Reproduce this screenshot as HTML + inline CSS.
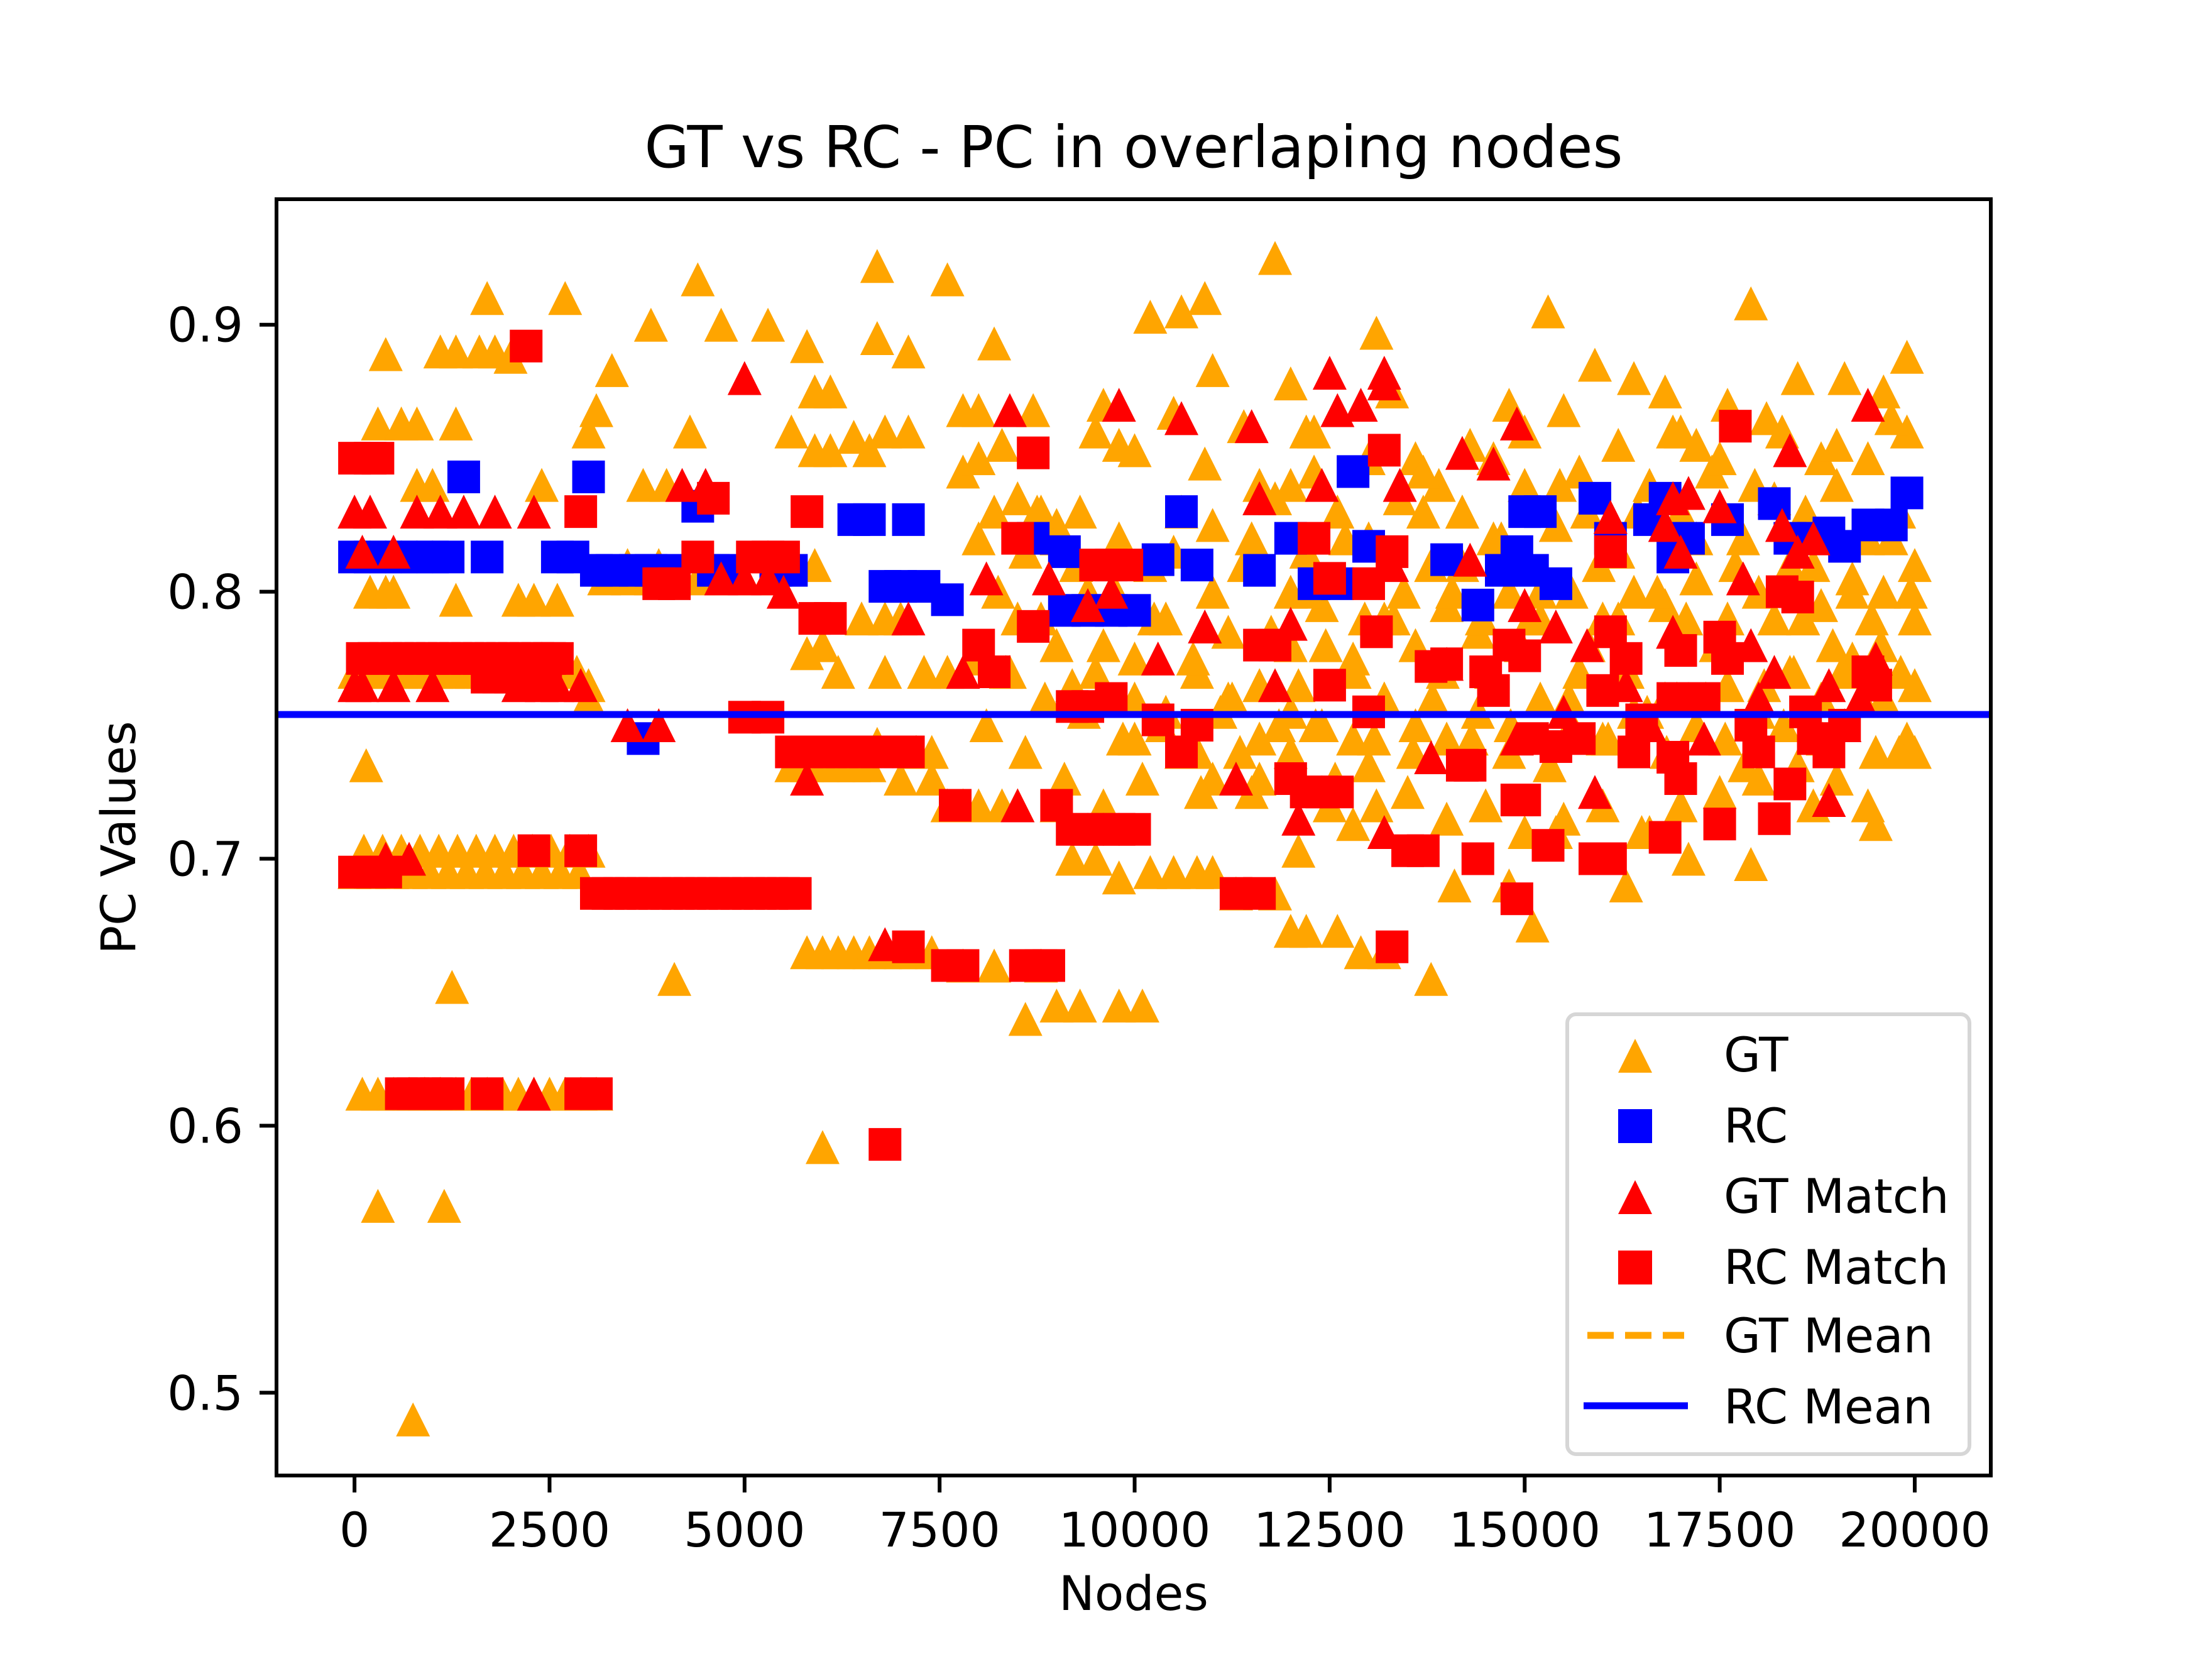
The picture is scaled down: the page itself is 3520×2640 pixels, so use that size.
<!DOCTYPE html>
<html><head><meta charset="utf-8"><style>
html,body{margin:0;padding:0;background:#fff;}
svg{display:block;font-family:"DejaVu Sans","Liberation Sans",sans-serif;}
</style></head><body>
<svg id="chart" width="3520" height="2640" viewBox="0 0 3520 2640">
<rect x="0" y="0" width="3520" height="2640" fill="#fff"/>
<g id="marks"></g>
<g id="axes"></g>
<text x="1804" y="266" font-size="92" text-anchor="middle">GT vs RC - PC in overlaping nodes</text>
<text x="1804" y="2562" font-size="76" text-anchor="middle">Nodes</text>
<text x="0" y="0" font-size="76" text-anchor="middle" transform="translate(215,1333) rotate(-90)">PC Values</text>
<g>
<rect x="2494" y="1614" width="640" height="700" rx="14" fill="#fff" fill-opacity="0.8" stroke="#d6d6d6" stroke-width="6"/>
<g><polygon points="2602,1653 2629,1707 2575,1707" fill="#ffa500"/><text x="2743" y="1705" font-size="76">GT</text></g>
<g><rect x="2575" y="1765" width="54" height="54" fill="#0000ff"/><text x="2743" y="1818" font-size="76">RC</text></g>
<g><polygon points="2602,1878 2629,1932 2575,1932" fill="#ff0000"/><text x="2743" y="1930" font-size="76">GT Match</text></g>
<g><rect x="2575" y="1990" width="54" height="54" fill="#ff0000"/><text x="2743" y="2043" font-size="76">RC Match</text></g>
<g><line x1="2526" y1="2125" x2="2680" y2="2125" stroke="#ffa500" stroke-width="11" stroke-dasharray="42,18"/><text x="2743" y="2152" font-size="76">GT Mean</text></g>
<g><line x1="2520" y1="2237" x2="2686" y2="2237" stroke="#0000ff" stroke-width="11"/><text x="2743" y="2265" font-size="76">RC Mean</text></g>
</g>
</svg>
<script>
const xTicks=[0,2500,5000,7500,10000,12500,15000,17500,20000];
const yTicks=[0.5,0.6,0.7,0.8,0.9];
const yTickLabels=["0.5","0.6","0.7","0.8","0.9"];
const gtMean=0.754;
const rcMean=0.754;
const gtX=[0,150,300,450,600,750,900,1050,1200,1350,1500,1650,1800,1950,2100,2250,2400,2550,2700,2850,3000,
0,120,240,360,480,600,720,840,960,1080,1200,1320,1440,1560,1680,1800,1920,2040,2160,2280,2400,2520,2640,2760,2880,3000,
100,300,500,700,900,1100,1300,1500,1700,1900,2100,2300,2500,2700,2900,3100,
300,1150,750,1250,150,200,400,500,1300,1700,2700,1100,1300,1600,1800,2000,400,300,600,800,1300,800,1000,2400,2100,2300,2600,3100,3000,3300,3800,4400,4700,5300,4300,3700,4000,5600,5800,5900,6100,5900,6100,6400,6600,6700,6700,7100,7600,8200,7800,8000,8700,6800,7100,4100,6000,
3200,3500,3800,4100,4400,4700,5000,5300,3000,3500,3900,5900,6000,5800,6200,6500,6800,7000,6800,7300,7600,7900,7200,7400,6700,7000,7400,7600,7800,8000,8300,8500,8600,9000,9300,9800,10100,8800,7800,8200,
5800,6000,6200,6400,6600,6800,7000,7200,7400,5600,5800,6000,6200,6400,6600,
9000,9200,9500,9800,10200,10500,10800,11000,11300,11800,12000,12200,12600,12900,13200,13800,12100,12800,13100,
7800,8000,8300,8500,8800,9000,9300,9500,9600,9800,10000,10200,10600,10900,11000,10500,10900,11400,11800,12000,12200,11600,12000,12300,13100,13300,13600,13900,14200,14600,14800,15300,15500,15900,16400,16800,17000,17200,17600,17900,18100,18500,18800,19100,19400,19600,19900,19900,
8200,8600,9000,9400,9800,10200,10600,11000,11400,11800,12200,12600,13000,13400,13800,14200,14600,15000,15400,15800,16200,16600,17000,17400,17800,18200,18600,19000,19400,19800,
8400,8800,9200,9600,10000,10400,10800,11200,11600,12000,12400,12800,13200,13600,14000,14400,14800,15200,15600,16000,16400,16800,17200,17600,18000,18400,18800,19200,19600,20000,
10000,10400,10800,11200,11600,12000,12400,12800,13200,13600,14000,14400,14800,15200,15600,16000,16400,16800,17200,17600,18000,18400,18800,19200,19600,20000,
11000,11500,12000,12500,13000,13500,14000,14500,15000,15500,16000,16500,17000,17500,18000,18500,19000,19500,19900,
14100,14800,15100,15400,16300,16600,17100,17900,18700,19400,19500,19800,20000,
12300,13000,13700,14300,15000,15700,16200,16900,17500,18300,19000,19700,
12200,12450,12700,12950,13200,13450,13700,13950,14200,14450,14700,14950,15200,15450,15700,15950,16200,16450,16700,16950,17200,17450,17700,17950,18200,18450,18700,18950,19200,19450,19700,19950,
12320,12570,12820,13070,13320,13570,13820,14070,14320,14570,14820,15070,15320,15570,15820,16070,16320,16570,16820,17070,17320,17570,17820,18070,18320,18570,18820,19070,19320,19570,19820,20000,
8000,8250,8500,8750,9000,9250,9500,9750,10000,10250,10500,10750,11000,11250,11500,11750,12000,
8100,8350,8600,8850,9100,9350,9600,9850,10100,10350,10600,10850,11100,11350,11600,11850,12100];
const gtY=[0.77,0.77,0.77,0.77,0.77,0.77,0.77,0.77,0.77,0.77,0.77,0.77,0.77,0.77,0.77,0.77,0.77,0.77,0.77,0.77,0.765,
0.695,0.703,0.695,0.703,0.695,0.703,0.695,0.703,0.695,0.703,0.695,0.703,0.695,0.703,0.695,0.703,0.695,0.703,0.695,0.703,0.695,0.703,0.695,0.703,0.695,0.703,
0.612,0.612,0.612,0.612,0.612,0.612,0.612,0.612,0.612,0.612,0.612,0.612,0.612,0.612,0.612,0.612,
0.57,0.57,0.49,0.652,0.735,0.80,0.80,0.80,0.797,0.91,0.91,0.89,0.89,0.89,0.89,0.888,0.889,0.863,0.863,0.863,0.863,0.84,0.84,0.84,0.797,0.797,0.797,0.868,0.86,0.883,0.90,0.917,0.90,0.90,0.86,0.84,0.84,0.86,0.892,0.875,0.875,0.853,0.853,0.858,0.853,0.922,0.895,0.89,0.917,0.893,0.868,0.868,0.868,0.86,0.86,0.655,0.592,
0.805,0.805,0.805,0.805,0.805,0.805,0.805,0.805,0.76,0.81,0.81,0.81,0.78,0.777,0.77,0.79,0.79,0.79,0.77,0.77,0.77,0.775,0.74,0.74,0.743,0.73,0.73,0.72,0.72,0.72,0.72,0.72,0.64,0.645,0.645,0.645,0.645,0.66,0.66,0.66,
0.665,0.665,0.665,0.665,0.665,0.665,0.665,0.665,0.665,0.735,0.735,0.735,0.735,0.735,0.735,
0.72,0.70,0.70,0.693,0.695,0.695,0.695,0.695,0.687,0.687,0.673,0.673,0.673,0.665,0.665,0.655,0.703,0.713,0.72,
0.845,0.85,0.855,0.835,0.83,0.82,0.83,0.86,0.87,0.855,0.853,0.903,0.905,0.91,0.883,0.867,0.848,0.862,0.925,0.878,0.86,0.84,0.84,0.845,0.897,0.875,0.85,0.84,0.83,0.85,0.87,0.905,0.868,0.885,0.88,0.875,0.86,0.855,0.87,0.908,0.865,0.88,0.85,0.88,0.85,0.875,0.888,0.86,
0.83,0.815,0.825,0.80,0.82,0.81,0.83,0.825,0.81,0.835,0.815,0.83,0.82,0.835,0.81,0.83,0.82,0.84,0.825,0.83,0.815,0.84,0.83,0.845,0.82,0.835,0.83,0.84,0.82,0.83,
0.77,0.79,0.765,0.78,0.775,0.79,0.77,0.785,0.765,0.78,0.795,0.775,0.79,0.78,0.795,0.785,0.80,0.79,0.80,0.79,0.80,0.795,0.805,0.79,0.80,0.81,0.795,0.805,0.80,0.81,
0.745,0.755,0.74,0.76,0.745,0.755,0.75,0.745,0.76,0.75,0.745,0.755,0.74,0.76,0.75,0.745,0.755,0.76,0.75,0.765,0.755,0.77,0.76,0.775,0.76,0.765,
0.73,0.725,0.74,0.72,0.735,0.725,0.715,0.72,0.71,0.715,0.72,0.71,0.72,0.725,0.73,0.735,0.73,0.74,0.745,
0.69,0.69,0.675,0.71,0.69,0.71,0.70,0.698,0.72,0.72,0.713,0.74,0.74,
0.86,0.85,0.845,0.855,0.86,0.845,0.855,0.86,0.85,0.86,0.855,0.865,
0.80,0.78,0.82,0.79,0.76,0.80,0.83,0.77,0.81,0.79,0.82,0.78,0.80,0.84,0.77,0.81,0.79,0.83,0.80,0.76,0.82,0.78,0.81,0.84,0.79,0.77,0.81,0.78,0.80,0.79,0.82,0.80,
0.75,0.73,0.77,0.745,0.79,0.74,0.76,0.80,0.745,0.77,0.75,0.79,0.735,0.76,0.78,0.745,0.77,0.755,0.74,0.79,0.76,0.745,0.735,0.765,0.75,0.79,0.745,0.77,0.76,0.78,0.77,0.79,
0.82,0.80,0.79,0.83,0.78,0.81,0.77,0.80,0.76,0.79,0.815,0.775,0.80,0.76,0.82,0.785,0.80,
0.75,0.77,0.74,0.76,0.73,0.755,0.72,0.745,0.73,0.75,0.74,0.725,0.755,0.74,0.73,0.75,0.765];
const rcX=[0,200,400,600,800,1000,1200,1400,1700,2600,2800,3000,3100,3300,3600,3800,4000,3700,4400,4600,4800,5400,5600,6400,6600,7100,6800,7000,7300,7600,8700,9100,9100,9400,9700,10000,10300,10600,10800,11600,12000,12300,12600,12800,13000,14000,14400,14700,14900,15000,15200,15100,15400,15900,16100,16600,16800,16900,17100,17600,18200,18400,18700,18900,19100,19400,19700,19900];
const rcY=[0.813,0.813,0.813,0.813,0.813,0.813,0.813,0.843,0.813,0.813,0.813,0.843,0.808,0.808,0.808,0.808,0.808,0.745,0.832,0.808,0.808,0.808,0.808,0.827,0.827,0.827,0.802,0.802,0.802,0.797,0.82,0.815,0.793,0.793,0.793,0.793,0.812,0.83,0.81,0.808,0.82,0.803,0.803,0.845,0.817,0.812,0.795,0.808,0.815,0.83,0.83,0.808,0.803,0.835,0.82,0.827,0.835,0.813,0.82,0.827,0.833,0.82,0.82,0.822,0.817,0.825,0.825,0.837];
const gtmX=[0,200,0,100,500,500,800,1100,1400,1800,2300,1900,2600,2900,400,700,2300,3500,3900,4200,4500,5000,4700,5000,5300,5500,5800,6800,7100,7800,8100,8400,8500,8900,9400,9700,9800,10300,10600,10900,11300,11500,11600,11800,12000,12100,12400,12500,12600,12900,13200,13200,13400,13300,13200,13800,14000,14200,14300,14600,14900,15000,14900,15400,15500,15800,15900,16100,16300,16600,16800,16900,17000,17100,16900,17300,17500,17800,17900,18000,18300,18400,18200,18500,18700,18900,18900,19100,19400,19500,19300,100,1000,2100,2400];
const gtmY=[0.83,0.83,0.765,0.815,0.815,0.765,0.83,0.83,0.83,0.83,0.83,0.77,0.765,0.765,0.70,0.70,0.612,0.75,0.75,0.84,0.84,0.88,0.805,0.805,0.805,0.80,0.73,0.668,0.79,0.77,0.805,0.868,0.72,0.805,0.795,0.80,0.87,0.775,0.865,0.787,0.73,0.862,0.835,0.765,0.788,0.715,0.84,0.882,0.868,0.87,0.878,0.882,0.84,0.81,0.71,0.738,0.773,0.852,0.812,0.848,0.863,0.795,0.745,0.787,0.755,0.78,0.725,0.828,0.765,0.75,0.825,0.835,0.815,0.837,0.785,0.745,0.832,0.805,0.78,0.76,0.825,0.853,0.77,0.815,0.82,0.765,0.722,0.75,0.87,0.775,0.76,0.765,0.765,0.765,0.765];
const rcmX=[0,200,300,0,200,400,100,250,400,550,700,850,1000,1150,1300,1450,1600,1750,1900,2050,2200,2350,2500,2600,1700,1850,2000,2150,2300,2450,600,750,900,1050,1200,1700,2900,3100,2200,2300,2900,2900,3100,3250,3400,3550,3700,3850,4000,4150,4300,4450,4600,4750,4900,5050,5200,5350,5500,5650,3900,4100,4400,4600,5100,5300,5500,5000,5300,5600,5800,5950,6100,6250,6400,6550,6700,6850,7000,7100,5800,5900,6100,6800,7100,7600,7800,7700,8000,8200,8600,8800,8900,8500,8700,8700,9000,9200,9400,9700,9200,9400,9600,9800,10000,9500,9700,9900,10300,10600,10800,11300,11600,11600,11800,12000,12200,12400,12600,12300,12500,12500,13000,13000,13100,13200,13300,13300,13500,13700,13800,14000,14200,14300,14400,14500,14600,14900,14800,15000,14900,15000,15100,15300,15400,15700,15900,16100,16000,16100,16100,16300,16400,16500,16800,16900,16900,17000,17000,17300,17500,17500,17600,17700,17900,18000,18200,18300,18400,18500,18600,18700,18900,19100,19400,19500];
const rcmY=[0.85,0.85,0.85,0.695,0.695,0.695,0.775,0.775,0.775,0.775,0.775,0.775,0.775,0.775,0.775,0.775,0.775,0.775,0.775,0.775,0.775,0.775,0.775,0.775,0.768,0.768,0.768,0.768,0.768,0.768,0.612,0.612,0.612,0.612,0.612,0.612,0.612,0.612,0.892,0.703,0.703,0.83,0.687,0.687,0.687,0.687,0.687,0.687,0.687,0.687,0.687,0.687,0.687,0.687,0.687,0.687,0.687,0.687,0.687,0.687,0.803,0.803,0.813,0.835,0.813,0.813,0.813,0.753,0.753,0.74,0.74,0.74,0.74,0.74,0.74,0.74,0.74,0.74,0.74,0.74,0.83,0.79,0.79,0.593,0.667,0.66,0.66,0.72,0.78,0.77,0.66,0.66,0.66,0.82,0.852,0.787,0.72,0.757,0.757,0.76,0.711,0.711,0.711,0.711,0.711,0.81,0.81,0.81,0.752,0.74,0.75,0.687,0.687,0.78,0.78,0.73,0.725,0.725,0.725,0.82,0.805,0.765,0.803,0.755,0.785,0.853,0.815,0.667,0.703,0.703,0.772,0.773,0.735,0.735,0.70,0.77,0.763,0.685,0.78,0.776,0.722,0.722,0.745,0.705,0.742,0.745,0.70,0.70,0.763,0.785,0.815,0.775,0.74,0.752,0.708,0.76,0.738,0.73,0.778,0.76,0.713,0.783,0.775,0.862,0.75,0.74,0.715,0.80,0.728,0.798,0.755,0.745,0.74,0.75,0.77,0.765];

const X0=440,X1=3168,Y0=317,Y1=2348;
const xMin=-1000,xMax=20975,yMin=0.469,yMax=0.947;
function sx(v){return X0+(v-xMin)/(xMax-xMin)*(X1-X0);}
function sy(v){return Y1-(v-yMin)/(yMax-yMin)*(Y1-Y0);}
const NS="http://www.w3.org/2000/svg";
const marks=document.getElementById('marks');
const axes=document.getElementById('axes');
const M=27;
function tri(xs,ys,color,name){
  const g=document.createElementNS(NS,'g');
  
  
  for(let i=0;i<xs.length;i++){
    const cx=sx(xs[i]),cy=sy(ys[i]);
    const p=document.createElementNS(NS,'polygon');
    p.setAttribute('points',cx+','+(cy-M)+' '+(cx+M)+','+(cy+M)+' '+(cx-M)+','+(cy+M));
    p.setAttribute('fill',color);
    
    
    g.appendChild(p);
  }
  marks.appendChild(g);
}
function sq(xs,ys,color,name){
  const g=document.createElementNS(NS,'g');
  
  
  for(let i=0;i<xs.length;i++){
    const cx=sx(xs[i]),cy=sy(ys[i]);
    const r=document.createElementNS(NS,'rect');
    r.setAttribute('x',cx-26);r.setAttribute('y',cy-26);
    r.setAttribute('width',52);r.setAttribute('height',52);
    r.setAttribute('fill',color);
    
    
    g.appendChild(r);
  }
  marks.appendChild(g);
}
tri(gtX,gtY,'#ffa500','gt-series');
sq(rcX,rcY,'#0000ff','rc-series');
tri(gtmX,gtmY,'#ff0000','gt-match-series');
sq(rcmX,rcmY,'#ff0000','rc-match-series');
function hline(v,color,dash,name){
  const l=document.createElementNS(NS,'line');
  l.setAttribute('x1',X0);l.setAttribute('x2',X1);
  l.setAttribute('y1',sy(v));l.setAttribute('y2',sy(v));
  l.setAttribute('stroke',color);l.setAttribute('stroke-width',11);
  if(dash)l.setAttribute('stroke-dasharray',dash);
  
  
  marks.appendChild(l);
}
hline(gtMean,'#ffa500','42,18','gt-mean-line');
hline(rcMean,'#0000ff',null,'rc-mean-line');
const frame=document.createElementNS(NS,'rect');
frame.setAttribute('x',X0);frame.setAttribute('y',Y0);
frame.setAttribute('width',X1-X0);frame.setAttribute('height',Y1-Y0);
frame.setAttribute('fill','none');frame.setAttribute('stroke','#000');frame.setAttribute('stroke-width',6);


axes.appendChild(frame);
xTicks.forEach(function(t){
  const x=sx(t);
  const l=document.createElementNS(NS,'line');
  l.setAttribute('x1',x);l.setAttribute('x2',x);l.setAttribute('y1',Y1);l.setAttribute('y2',Y1+27);
  l.setAttribute('stroke','#000');l.setAttribute('stroke-width',6);
  
  
  axes.appendChild(l);
  const tx=document.createElementNS(NS,'text');
  tx.setAttribute('x',x);tx.setAttribute('y',Y1+113);
  tx.setAttribute('font-size',76);tx.setAttribute('text-anchor','middle');
  tx.textContent=String(t);
  
  
  axes.appendChild(tx);
});
yTicks.forEach(function(t,i){
  const y=sy(t);
  const l=document.createElementNS(NS,'line');
  l.setAttribute('x1',X0-27);l.setAttribute('x2',X0);l.setAttribute('y1',y);l.setAttribute('y2',y);
  l.setAttribute('stroke','#000');l.setAttribute('stroke-width',6);
  
  
  axes.appendChild(l);
  const tx=document.createElementNS(NS,'text');
  tx.setAttribute('x',X0-53);tx.setAttribute('y',y+27);
  tx.setAttribute('font-size',76);tx.setAttribute('text-anchor','end');
  tx.textContent=yTickLabels[i];
  
  
  axes.appendChild(tx);
});
</script>
</body></html>
